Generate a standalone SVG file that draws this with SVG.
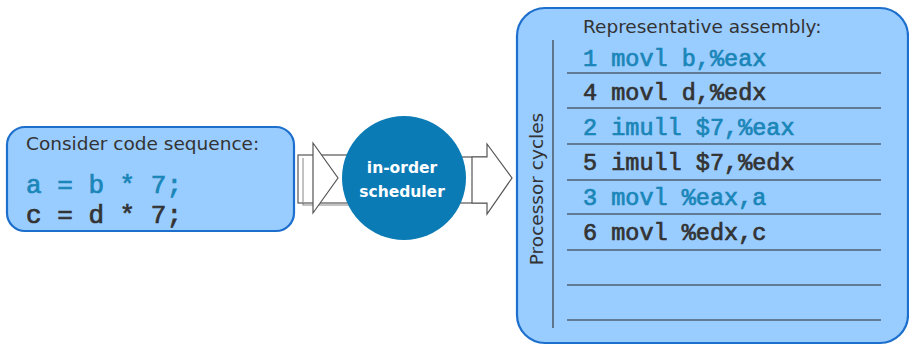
<svg xmlns="http://www.w3.org/2000/svg" width="909" height="346" viewBox="0 0 909 346">
  <style>
    .box { fill: #99ccff; stroke: #1c6fcc; stroke-width: 2.2; }
    .label { font-family: "DejaVu Sans", "Liberation Sans", sans-serif; font-size: 18.5px; fill: #333333; }
    .code { font-family: "Liberation Mono", "DejaVu Sans Mono", monospace; font-weight: normal; stroke-width: 0.7; }
    .blue { fill: #1a86b8; stroke: #1a86b8; }
    .dark { fill: #333333; stroke: #333333; }
    .rule { stroke: #4f6070; stroke-width: 1.6; }
    .arrow { fill: #ffffff; stroke: #555555; stroke-width: 1.2; }
    .arrow-shade { fill: none; stroke: #999999; stroke-width: 1.2; }
    .sched { font-family: "DejaVu Sans", "Liberation Sans", sans-serif; font-size: 15.5px; font-weight: bold; fill: #ffffff; }
  </style>

  <!-- connectors: hollow block arrows in and out of the scheduler -->
  <g id="connectors">
    <g id="arrow-in">
      <rect class="arrow-shade" x="303" y="158" width="50" height="47"/>
      <rect class="arrow" x="298" y="155" width="52" height="48"/>
      <polygon class="arrow" points="313,155 313,143 338,178 313,213 313,203" />
      <line class="arrow-shade" x1="303" y1="158" x2="303" y2="203"/>
    </g>
    <g id="arrow-out">
      <rect class="arrow" x="455" y="157" width="32" height="46"/>
      <polygon class="arrow" points="472,157 487,157 487,144 512,178 487,214 487,203 472,203" />
    </g>
  </g>

  <!-- source code box -->
  <g id="code-sequence">
    <rect class="box" x="7" y="127" width="287" height="104" rx="18" ry="18"/>
    <text class="label" x="26" y="150">Consider code sequence:</text>
    <text class="code blue" x="26" y="193" font-size="26">a = b * 7;</text>
    <text class="code dark" x="26" y="223" font-size="26">c = d * 7;</text>
  </g>

  <!-- scheduler node -->
  <g id="scheduler">
    <circle cx="404" cy="178" r="62" fill="#0b7bb6"/>
    <text class="sched" x="402" y="173" text-anchor="middle">in-order</text>
    <text class="sched" x="402" y="197" text-anchor="middle">scheduler</text>
  </g>

  <!-- assembly timeline box -->
  <g id="assembly">
    <rect class="box" x="517" y="8" width="391" height="335" rx="28" ry="28"/>
    <text class="label" x="583" y="33">Representative assembly:</text>
    <text class="label" transform="translate(543,189) rotate(-90)" text-anchor="middle">Processor cycles</text>
    <line class="rule" x1="553" y1="40" x2="553" y2="328"/>
    <g class="rows">
      <line class="rule" x1="567" y1="73" x2="881" y2="73"/>
      <line class="rule" x1="567" y1="108" x2="881" y2="108"/>
      <line class="rule" x1="567" y1="144" x2="881" y2="144"/>
      <line class="rule" x1="567" y1="180" x2="881" y2="180"/>
      <line class="rule" x1="567" y1="214" x2="881" y2="214"/>
      <line class="rule" x1="567" y1="250" x2="881" y2="250"/>
      <line class="rule" x1="567" y1="285" x2="881" y2="285"/>
      <line class="rule" x1="567" y1="320" x2="881" y2="320"/>
    </g>
    <text class="code blue" x="583" y="66" font-size="23.5">1 movl b,%eax</text>
    <text class="code dark" x="583" y="100" font-size="23.5">4 movl d,%edx</text>
    <text class="code blue" x="583" y="135" font-size="23.5">2 imull $7,%eax</text>
    <text class="code dark" x="583" y="170" font-size="23.5">5 imull $7,%edx</text>
    <text class="code blue" x="583" y="205" font-size="23.5">3 movl %eax,a</text>
    <text class="code dark" x="583" y="240" font-size="23.5">6 movl %edx,c</text>
  </g>
</svg>
